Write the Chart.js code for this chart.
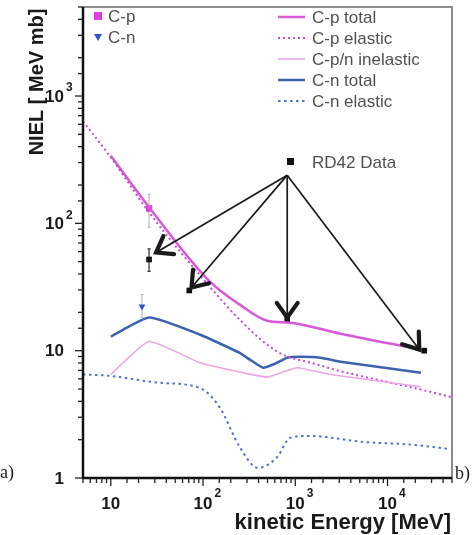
<!DOCTYPE html>
<html>
<head>
<meta charset="utf-8">
<script src="https://cdn.jsdelivr.net/npm/chart.js@4.4.0/dist/chart.umd.min.js"></script>
<style>
html, body { margin: 0; padding: 0; background: #fff; }
</style>
</head>
<body>
<canvas id="myChart" width="474" height="535"></canvas>
<script>
// energy [MeV] / NIEL [MeV mb]
const cpTotalE = [10, 26, 118, 250, 494, 880, 3100, 23000];
const cpTotalV = [340, 134, 35, 23, 17.2, 16.6, 13.6, 10.2];

const cpElasticE = [5, 10, 26, 118, 250, 533, 818, 1460, 3100, 23000, 50000];
const cpElasticV = [633, 330, 122, 31.9, 17.5, 10.7, 9.0, 8.05, 6.9, 4.95, 4.3];

const inelasticE = [10, 26, 92, 250, 494, 700, 1050, 2415, 23000];
const inelasticV = [6.5, 11.8, 8.05, 6.8, 6.2, 6.7, 7.35, 6.5, 5.2];

const cnTotalE = [10, 26, 92, 250, 322, 447, 604, 818, 1135, 1875, 3100, 23000];
const cnTotalV = [12.9, 18.2, 13.4, 9.6, 8.5, 7.35, 7.9, 8.8, 8.95, 8.8, 8.2, 6.7];

const cnElasticE = [5, 9.5, 33.5, 92, 151, 250, 394, 636, 880, 1387, 5530, 19500, 47000];
const cnElasticV = [6.5, 6.35, 5.6, 5.1, 3.6, 1.75, 1.2, 1.46, 2.07, 2.14, 1.92, 1.82, 1.69];

// measured points
const cpPointE = [26];
const cpPointV = [131];
const cpErrLo = [93];
const cpErrHi = [169];

const cnPointE = [21.8];
const cnPointV = [22.2];
const cnErrLo = [18.2];
const cnErrHi = [27.6];

const rd42E = [26, 71, 818, 25000];
const rd42V = [52, 29.7, 17.5, 10.0];
const rd42ErrLo = [42, null, null, null];
const rd42ErrHi = [63, null, null, null];

// arrows from the "RD42 Data" label to the points
const arrowFromE = 818;
const arrowFromV = 239;
const arrowTipE = [31, 75, 818, 22100];
const arrowTipV = [59, 31.3, 18.2, 10.2];

const xTicksMajor = [10, 100, 1000, 10000];
const yTicksMajor = [1, 10, 100, 1000];
const supDigits = ['', '', '2', '3', '4'];

const xTitle = 'kinetic Energy [MeV]';
const yTitle = 'NIEL [ MeV mb]';

const lineLegend = [
	{ label: 'C-p total', color: '#d65ad8', dash: [], width: 2.5 },
	{ label: 'C-p elastic', color: '#c64ace', dash: [2, 3], width: 2 },
	{ label: 'C-p/n inelastic', color: '#eba6e6', dash: [], width: 1.6 },
	{ label: 'C-n total', color: '#3d62ae', dash: [], width: 2.5 },
	{ label: 'C-n elastic', color: '#5570c4', dash: [2.5, 3.5], width: 2 }
];

function pts(E, V) {
	return E.map((e, i) => ({ x: e, y: V[i] }));
}

function isPow10(v) {
	const l = Math.log10(v);
	return Math.abs(l - Math.round(l)) < 1e-9;
}

const overlay = {
	id: 'overlay',
	beforeDatasetsDraw(chart) {
		const ctx = chart.ctx;
		const xs = chart.scales.x, ys = chart.scales.y;
		function errBar(E, lo, hi, color) {
			E.forEach((e, i) => {
				if (lo[i] == null) return;
				const px = xs.getPixelForValue(e);
				const y1 = ys.getPixelForValue(lo[i]);
				const y2 = ys.getPixelForValue(hi[i]);
				ctx.save();
				ctx.strokeStyle = color;
				ctx.lineWidth = 1.2;
				ctx.beginPath();
				ctx.moveTo(px, y1); ctx.lineTo(px, y2);
				ctx.moveTo(px - 1.5, y1); ctx.lineTo(px + 1.5, y1);
				ctx.moveTo(px - 1.5, y2); ctx.lineTo(px + 1.5, y2);
				ctx.stroke();
				ctx.restore();
			});
		}
		errBar(cpPointE, cpErrLo, cpErrHi, '#bdbdbd');
		errBar(cnPointE, cnErrLo, cnErrHi, '#bdbdbd');
		errBar(rd42E, rd42ErrLo, rd42ErrHi, '#333');
	},
	afterDraw(chart) {
		const ctx = chart.ctx;
		const a = chart.chartArea;
		const xs = chart.scales.x, ys = chart.scales.y;
		ctx.save();

		// frame
		ctx.strokeStyle = '#8c8c8c';
		ctx.lineWidth = 2;
		ctx.beginPath();
		ctx.moveTo(a.left, a.top); ctx.lineTo(a.right, a.top); ctx.lineTo(a.right, a.bottom);
		ctx.stroke();
		ctx.strokeStyle = '#111';
		ctx.lineWidth = 2.5;
		ctx.beginPath();
		ctx.moveTo(a.left, a.top); ctx.lineTo(a.left, a.bottom); ctx.lineTo(a.right, a.bottom);
		ctx.stroke();

		// tick marks
		ctx.lineWidth = 1.3;
		ctx.strokeStyle = '#222';
		xs.ticks.forEach(t => {
			const p = xs.getPixelForValue(t.value);
			const len = isPow10(t.value) ? 8 : 5;
			ctx.beginPath(); ctx.moveTo(p, a.bottom); ctx.lineTo(p, a.bottom + len); ctx.stroke();
		});
		ys.ticks.forEach(t => {
			const p = ys.getPixelForValue(t.value);
			const len = isPow10(t.value) ? 8 : 5;
			ctx.beginPath(); ctx.moveTo(a.left, p); ctx.lineTo(a.left - len, p); ctx.stroke();
		});

		// tick labels
		ctx.fillStyle = '#1a1a1a';
		ctx.textBaseline = 'middle';
		xTicksMajor.forEach(v => {
			const p = xs.getPixelForValue(v);
			const ex = Math.round(Math.log10(v));
			ctx.font = 'bold 17px "Liberation Sans", Arial, sans-serif';
			ctx.textAlign = 'center';
			ctx.fillText('10', p, 504);
			if (supDigits[ex]) {
				const w = ctx.measureText('10').width;
				ctx.font = 'bold 12px "Liberation Sans", Arial, sans-serif';
				ctx.textAlign = 'left';
				ctx.fillText(supDigits[ex], p + w / 2 + 2, 494);
			}
		});
		yTicksMajor.forEach(v => {
			const p = ys.getPixelForValue(v);
			const ex = Math.round(Math.log10(v));
			ctx.font = 'bold 17px "Liberation Sans", Arial, sans-serif';
			ctx.textAlign = 'right';
			ctx.fillText(ex === 0 ? '1' : '10', 64, p + 1);
			if (supDigits[ex]) {
				ctx.font = 'bold 12px "Liberation Sans", Arial, sans-serif';
				ctx.textAlign = 'left';
				ctx.fillText(supDigits[ex], 66, p - 8);
			}
		});

		// axis titles
		ctx.fillStyle = '#1a1a1a';
		ctx.font = 'bold 22px "Liberation Sans", Arial, sans-serif';
		ctx.textAlign = 'right';
		ctx.fillText(xTitle, 451, 523);
		ctx.save();
		ctx.translate(37, 82);
		ctx.rotate(-Math.PI / 2);
		ctx.font = 'bold 20px "Liberation Sans", Arial, sans-serif';
		ctx.textAlign = 'center';
		ctx.fillText(yTitle, 0, 0);
		ctx.restore();

		// panel marks
		ctx.font = '18px "Liberation Serif", serif';
		ctx.textAlign = 'right';
		ctx.fillText('a)', 14, 473);
		ctx.textAlign = 'left';
		ctx.fillText('b)', 455, 474);

		// legends
		ctx.font = '17px "Liberation Sans", Arial, sans-serif';
		ctx.fillStyle = '#505050';
		ctx.textAlign = 'left';
		ctx.fillText('C-p', 108, 17);
		ctx.fillText('C-n', 108, 38);
		ctx.fillStyle = '#e040e0';
		ctx.fillRect(94, 12, 8, 8);
		ctx.fillStyle = '#2f55c8';
		ctx.beginPath();
		ctx.moveTo(94, 34); ctx.lineTo(102, 34); ctx.lineTo(98, 41); ctx.closePath();
		ctx.fill();

		lineLegend.forEach((it, i) => {
			const y = 17 + i * 21;
			ctx.strokeStyle = it.color;
			ctx.lineWidth = it.width;
			ctx.setLineDash(it.dash);
			ctx.beginPath(); ctx.moveTo(278, y); ctx.lineTo(305, y); ctx.stroke();
			ctx.setLineDash([]);
			ctx.fillStyle = '#505050';
			ctx.fillText(it.label, 312, y + 1);
		});

		ctx.fillStyle = '#111';
		ctx.fillRect(287, 158, 7, 7);
		ctx.fillStyle = '#505050';
		ctx.fillText('RD42 Data', 312, 163);

		// arrows
		const ox = xs.getPixelForValue(arrowFromE);
		const oy = ys.getPixelForValue(arrowFromV);
		arrowTipE.forEach((e, i) => {
			const tx = xs.getPixelForValue(e);
			const ty = ys.getPixelForValue(arrowTipV[i]);
			ctx.strokeStyle = '#1a1a1a';
			ctx.lineWidth = 1.7;
			ctx.beginPath(); ctx.moveTo(ox, oy); ctx.lineTo(tx, ty); ctx.stroke();
			const ang = Math.atan2(ty - oy, tx - ox);
			const L = 18, s = 0.62;
			ctx.lineWidth = 4.2;
			ctx.lineCap = 'round';
			ctx.lineJoin = 'miter';
			ctx.beginPath();
			ctx.moveTo(tx - L * Math.cos(ang - s), ty - L * Math.sin(ang - s));
			ctx.lineTo(tx, ty);
			ctx.lineTo(tx - L * Math.cos(ang + s), ty - L * Math.sin(ang + s));
			ctx.stroke();
			ctx.lineCap = 'butt';
		});

		ctx.restore();
	}
};

const myChart = new Chart(document.getElementById('myChart'), {
	type: 'line',
	data: {
		datasets: [
			{ label: 'C-n elastic', data: pts(cnElasticE, cnElasticV), borderColor: '#5570c4', borderWidth: 2, borderDash: [2.5, 3.5], cubicInterpolationMode: 'monotone', pointRadius: 0 },
			{ label: 'C-p/n inelastic', data: pts(inelasticE, inelasticV), borderColor: '#eba6e6', borderWidth: 1.6, tension: 0.15, pointRadius: 0 },
			{ label: 'C-p elastic', data: pts(cpElasticE, cpElasticV), borderColor: '#c64ace', borderWidth: 2, borderDash: [2, 3], cubicInterpolationMode: 'monotone', pointRadius: 0 },
			{ label: 'C-n total', data: pts(cnTotalE, cnTotalV), borderColor: '#3d62ae', borderWidth: 2.5, tension: 0.15, pointRadius: 0 },
			{ label: 'C-p total', data: pts(cpTotalE, cpTotalV), borderColor: '#d65ad8', borderWidth: 2.5, cubicInterpolationMode: 'monotone', pointRadius: 0 },
			{ label: 'C-p', data: pts(cpPointE, cpPointV), showLine: false, pointStyle: 'rect', pointRadius: 4.5, backgroundColor: '#e040e0', borderColor: '#e040e0', borderWidth: 0 },
			{ label: 'C-n', data: pts(cnPointE, cnPointV), showLine: false, pointStyle: 'triangle', rotation: 180, pointRadius: 4, backgroundColor: '#2f55c8', borderColor: '#2f55c8', borderWidth: 0 },
			{ label: 'RD42 Data', data: pts(rd42E, rd42V), showLine: false, pointStyle: 'rect', pointRadius: 4, backgroundColor: '#111', borderColor: '#111', borderWidth: 0 }
		]
	},
	options: {
		responsive: false,
		animation: false,
		devicePixelRatio: 1,
		layout: { padding: { top: 7, right: 22, left: 0, bottom: 0 } },
		plugins: { legend: { display: false }, tooltip: { enabled: false } },
		scales: {
			x: {
				type: 'logarithmic', min: 5, max: 50000,
				grid: { display: false }, border: { display: false },
				ticks: { display: false, autoSkip: false },
				afterFit: s => { s.height = 57; }
			},
			y: {
				type: 'logarithmic', min: 1, max: 5000,
				grid: { display: false }, border: { display: false },
				ticks: { display: false, autoSkip: false },
				afterFit: s => { s.width = 83; }
			}
		}
	},
	plugins: [overlay]
});
</script>
</body>
</html>
